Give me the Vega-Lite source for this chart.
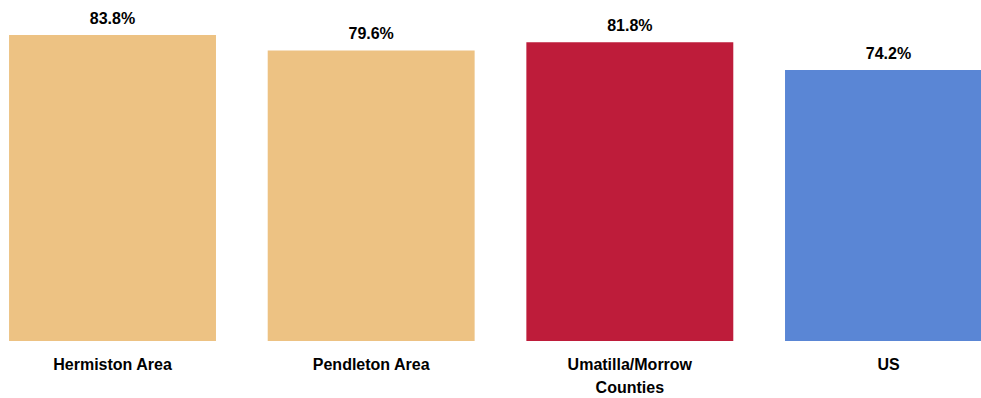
{
  "$schema": "https://vega.github.io/schema/vega-lite/v6.json",
  "autosize": "none",
  "padding": {"left": 0, "top": 0, "right": 0, "bottom": 57},
  "width": 1001,
  "height": 341,
  "background": "white",
  "data": {
    "values": [
      {"area": "Hermiston Area", "rate": 0.838, "group": "tan"},
      {"area": "Pendleton Area", "rate": 0.796, "group": "tan"},
      {"area": "Umatilla/Morrow Counties", "rate": 0.818, "group": "red"},
      {"area": "US", "rate": 0.742, "group": "blue"}
    ]
  },
  "config": {
    "view": {"stroke": null},
    "font": "Liberation Sans"
  },
  "encoding": {
    "x": {
      "field": "area",
      "type": "nominal",
      "sort": null,
      "title": null,
      "scale": {"paddingInner": 0.2, "paddingOuter": 0.035},
      "axis": {
        "domain": false,
        "ticks": false,
        "labelAngle": 0,
        "labelFont": "Liberation Sans",
        "labelFontSize": 16,
        "labelFontWeight": "bold",
        "labelColor": "#000000",
        "labelPadding": 15,
        "labelLineHeight": 23,
        "labelExpr": "datum.label == 'Umatilla/Morrow Counties' ? ['Umatilla/Morrow', 'Counties'] : datum.label"
      }
    },
    "y": {
      "field": "rate",
      "type": "quantitative",
      "scale": {"domain": [0, 0.934], "nice": false},
      "axis": null
    }
  },
  "layer": [
    {
      "mark": {"type": "bar"},
      "encoding": {
        "color": {
          "field": "group",
          "type": "nominal",
          "scale": {"domain": ["tan", "red", "blue"], "range": ["#EDC283", "#BE1C3A", "#5A86D5"]},
          "legend": null
        }
      }
    },
    {
      "mark": {"type": "text", "baseline": "alphabetic", "dy": -11, "fontSize": 16, "fontWeight": "bold", "font": "Liberation Sans", "color": "#000000"},
      "encoding": {
        "text": {"field": "rate", "type": "quantitative", "format": ".1%"}
      }
    }
  ]
}
